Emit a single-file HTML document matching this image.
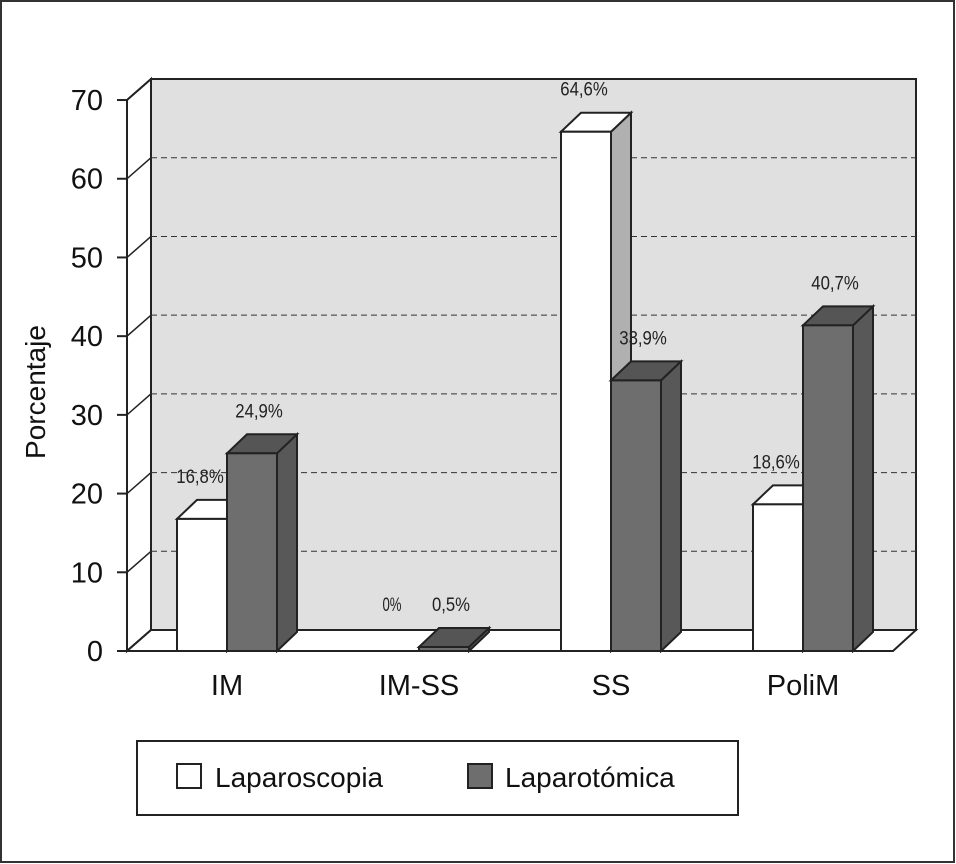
<!DOCTYPE html>
<html><head><meta charset="utf-8"><style>
body{margin:0;background:#fff}
svg{display:block;font-family:"Liberation Sans",Arial,sans-serif}
</style></head><body>
<svg id="c" width="956" height="864" viewBox="0 0 956 864">
<rect x="1" y="1" width="953" height="861" fill="#fff" stroke="#333" stroke-width="2"/>
<g id="g"></g>
</svg>
<script>
const categories=["IM","IM-SS","SS","PoliM"];
const laparoscopia=[16.8,0,64.6,18.6];
const laparotomica=[24.9,0.5,33.9,40.7];
const lapLabels=["16,8%","0%","64,6%","18,6%"];
const lptLabels=["24,9%","0,5%","33,9%","40,7%"];
const yTicks=[0,10,20,30,40,50,60,70];

const NS="http://www.w3.org/2000/svg";
const g=document.getElementById('g');
function el(t,a,p){const e=document.createElementNS(NS,t);for(const k in a)e.setAttribute(k,a[k]);(p||g).appendChild(e);return e;}
const DX=24,DY=-21,bx=20,by=-19;
const y=v=>651-v*78.71/10;
const yb=v=>655-v*8.1;
const xg=i=>177+i*192;
const S="#222";
let e=el('rect',{x:151,y:79,width:765,height:551,fill:"#e0e0e0",stroke:S,"stroke-width":2});

e=el('polygon',{points:"127,100 151,79 151,630 127,651",fill:"#fff",stroke:S,"stroke-width":2});

e=el('polygon',{points:"127,651 151,630 916,630 893,651",fill:"#fff",stroke:S,"stroke-width":2});

yTicks.forEach(t=>{
  const yy=y(t);
  if(t>0&&t<70){
    e=el('line',{x1:151,x2:916,y1:yy+DY,y2:yy+DY,stroke:"#333","stroke-width":1,"stroke-dasharray":"6,4"});
    
  }
  e=el('line',{x1:127,y1:yy,x2:151,y2:yy+DY,stroke:S,"stroke-width":1.5});
  
  e=el('line',{x1:117,y1:yy,x2:127,y2:yy,stroke:S,"stroke-width":2});
  
  e=el('text',{x:103,y:yy+10,"text-anchor":"end","font-size":29,fill:"#111"});
  e.textContent=t;
  
});
e=el('line',{x1:127,y1:100,x2:127,y2:651,stroke:S,"stroke-width":2});

e=el('text',{x:45,y:392,"text-anchor":"middle","font-size":28,fill:"#111",transform:"rotate(-90 45 392)"});
e.textContent="Porcentaje";


function bar(x,v,front,top,side,name){
  if(v<=0)return;
  const w=50;let t=Math.min(yb(v),647);const b=651;
  const grp=el('g',{});
  
  
  el('polygon',{points:`${x+w},${t} ${x+w+bx},${t+by} ${x+w+bx},${b+by} ${x+w},${b}`,fill:side,stroke:S,"stroke-width":2},grp);
  el('polygon',{points:`${x},${t} ${x+bx},${t+by} ${x+w+bx},${t+by} ${x+w},${t}`,fill:top,stroke:S,"stroke-width":2},grp);
  el('rect',{x:x,y:t,width:w,height:b-t,fill:front,stroke:S,"stroke-width":2},grp);
}
function label(x,v,txt){
  const t=Math.min(yb(v),647);
  const e=el('text',{x:x+37,y:t+by-17,"text-anchor":"middle","font-size":19,fill:"#222",textLength:txt.length*9.5,lengthAdjust:"spacingAndGlyphs"});
  e.textContent=txt;
  
}
categories.forEach((c,i)=>{
  const x=xg(i);
  bar(x,laparoscopia[i],"#fff","#fff","#b0b0b0",'bar-laparoscopia-'+c.toLowerCase());
  bar(x+50,laparotomica[i],"#6e6e6e","#555","#585858",'bar-laparotomica-'+c.toLowerCase());
  label(x-14,laparoscopia[i],lapLabels[i]);
  label(x+45,laparotomica[i],lptLabels[i]);
  const e=el('text',{x:x+50,y:695,"text-anchor":"middle","font-size":29,fill:"#111"});
  e.textContent=c;
  
});
const lg=el('g',{});


el('rect',{x:137,y:741,width:601,height:74,fill:"#fff",stroke:S,"stroke-width":2},lg);
e=el('rect',{x:177,y:764,width:24,height:24,fill:"#fff",stroke:S,"stroke-width":2},lg);

e=el('text',{x:215,y:787,"font-size":28,fill:"#111"},lg);e.textContent="Laparoscopia";

e=el('rect',{x:468,y:764,width:24,height:24,fill:"#6e6e6e",stroke:S,"stroke-width":2},lg);

e=el('text',{x:505,y:787,"font-size":28,fill:"#111"},lg);e.textContent="Laparotómica";

</script>
</body></html>
